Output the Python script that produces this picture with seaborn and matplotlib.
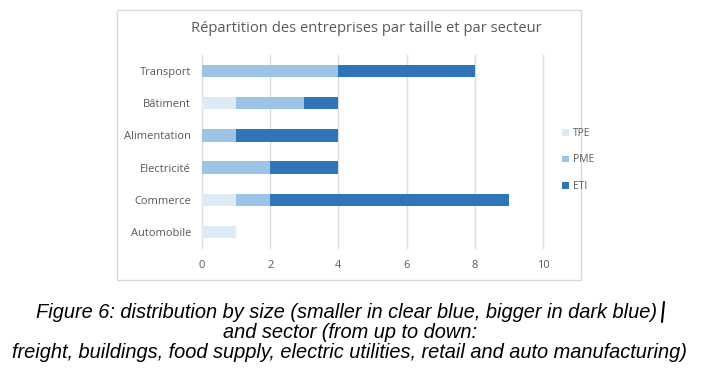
import matplotlib
matplotlib.use("Agg")
import matplotlib.pyplot as plt
import seaborn as sns
import pandas as pd
from matplotlib.patches import Rectangle, Patch
from matplotlib.lines import Line2D

sectors = ["Transport", "Bâtiment", "Alimentation", "Electricité", "Commerce", "Automobile"]
tpe = [0, 1, 0, 0, 1, 1]
pme = [4, 2, 1, 2, 1, 0]
eti = [4, 1, 3, 2, 7, 0]
size_labels = ["TPE", "PME", "ETI"]
x_ticks = [0, 2, 4, 6, 8, 10]

title = "Répartition des entreprises par taille et par secteur"
caption1 = "Figure 6: distribution by size (smaller in clear blue, bigger in dark blue)"
caption2 = "and sector (from up to down:"
caption3 = "freight, buildings, food supply, electric utilities, retail and auto manufacturing)"

colors = {"TPE": "#DDEBF7", "PME": "#9DC3E6", "ETI": "#2E75B6"}
gray = "#595959"

df = pd.DataFrame({"sector": sectors, "TPE": tpe, "PME": pme, "ETI": eti})
df["c1"] = df["TPE"]
df["c2"] = df["TPE"] + df["PME"]
df["c3"] = df["TPE"] + df["PME"] + df["ETI"]

sns.set_style("white")
W, H = 702, 377
fig = plt.figure(figsize=(W / 100, H / 100), dpi=100)
fig.patch.set_facecolor("white")

# chart border
fig.patches.append(Rectangle((117 / W, 1 - 280 / H), (581 - 117) / W, (280 - 10) / H,
                             transform=fig.transFigure, fill=False,
                             edgecolor="#D9D9D9", linewidth=1.0))

ax = fig.add_axes([202 / W, 1 - 248 / H, (543 - 202) / W, (248 - 55) / H])
bw = 0.38
for col, key in [("c3", "ETI"), ("c2", "PME"), ("c1", "TPE")]:
    sns.barplot(data=df, x=col, y="sector", order=sectors, color=colors[key],
                width=bw, ax=ax, saturation=1, linewidth=0, errorbar=None)

ax.set_xlim(0, 10)
ax.set_ylim(5.5, -0.5)
ax.set_xticks(x_ticks)
ax.set_xticklabels([str(t) for t in x_ticks])
ax.set_xlabel("")
ax.set_ylabel("")
ax.xaxis.grid(True, color="#DCDCDC", linewidth=1.0)
for gl in ax.get_xgridlines():
    gl.set_clip_on(False)
ax.set_axisbelow(True)
for s in ax.spines.values():
    s.set_visible(False)
ax.tick_params(axis="both", length=0, labelsize=8, labelcolor=gray, pad=8)
ax.tick_params(axis="x", pad=9)
for lab in ax.get_xticklabels() + ax.get_yticklabels():
    lab.set_family("Open Sans")

fig.text(366 / W, 1 - 29 / H, title, ha="center", va="center",
         fontsize=10.6, color=gray, family="Open Sans")

handles = [Patch(facecolor=colors[k], edgecolor="none") for k in size_labels]
fig.legend(handles, size_labels, loc="center left",
           bbox_to_anchor=(553 / W, 1 - 160 / H), frameon=False,
           handlelength=0.6, handleheight=0.6, handletextpad=0.4,
           labelspacing=1.5, prop={"family": "Open Sans", "size": 7.5},
           labelcolor=gray)

cap = dict(ha="center", va="center", fontsize=14.4, style="italic",
           color="black", family="Liberation Sans")
fig.text(347 / W, 1 - 312 / H, caption1, **cap)
fig.text(350 / W, 1 - 332 / H, caption2, **cap)
fig.text(349 / W, 1 - 352 / H, caption3, **cap)
fig.add_artist(Line2D([664 / W, 662 / W], [1 - 302 / H, 1 - 322 / H],
                      transform=fig.transFigure, color="black", linewidth=1.5))

fig.savefig("out.png", dpi=100)
